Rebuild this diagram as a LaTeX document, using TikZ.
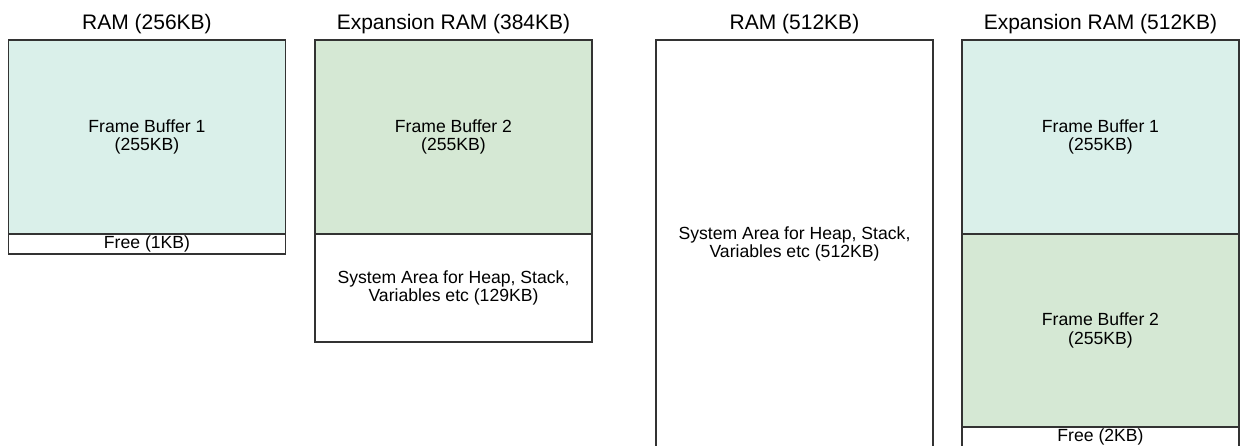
\documentclass[tikz,border=0pt]{standalone}
\usepackage{fontspec}
\setmainfont{Liberation Sans}
\usepackage{tikz}
\usetikzlibrary{positioning}

\definecolor{fbcyan}{RGB}{218,240,234}
\definecolor{fbgreen}{RGB}{213,232,212}

\begin{document}
\begin{tikzpicture}[x=1pt,y=-1pt,
    blk/.style={draw=black!80,line width=1.2pt,rectangle,minimum width=277pt,inner sep=0pt,outer sep=0pt,align=center,font=\fontsize{17.6}{18.2}\selectfont},
    fbone/.style={blk,fill=fbcyan},
    fbtwo/.style={blk,fill=fbgreen},
    hdr/.style={anchor=base,font=\fontsize{21}{24}\selectfont}]
    %myborder
    \useasboundingbox (0,0) rectangle (1240,446);
    \clip (0,0) rectangle (1240,446);

    %ram256
    \node[hdr] (ttlA) at (147,29.3) {RAM (256KB)};
    \node[fbone,minimum height=194pt,anchor=north west] (fbA) at (8.5,40) {Frame Buffer 1\\(255KB)};
    \node[blk,minimum height=20pt,below=0pt of fbA] (freeA) {Free (1KB)};

    %exp384
    \node[hdr] (ttlB) at (453.5,29.3) {Expansion RAM (384KB)};
    \node[fbtwo,minimum height=194pt,anchor=north west] (fbB) at (315,40) {Frame Buffer 2\\(255KB)};
    \node[blk,minimum height=108pt,below=0pt of fbB] (sysB) {System Area for Heap, Stack,\\Variables etc (129KB)};

    %ram512
    \node[hdr] (ttlC) at (794.5,29.3) {RAM (512KB)};
    \node[blk,minimum height=408pt,anchor=north west] (sysC) at (656,40) {System Area for Heap, Stack,\\Variables etc (512KB)};

    %exp512
    \node[hdr] (ttlD) at (1100.5,29.3) {Expansion RAM (512KB)};
    \node[fbone,minimum height=194pt,anchor=north west] (fbD) at (962,40) {Frame Buffer 1\\(255KB)};
    \node[fbtwo,minimum height=193pt,below=0pt of fbD] (fbE) {Frame Buffer 2\\(255KB)};
    \node[blk,minimum height=20pt,below=0pt of fbE] (freeD) {Free (2KB)};

  \end{tikzpicture}
\end{document}
